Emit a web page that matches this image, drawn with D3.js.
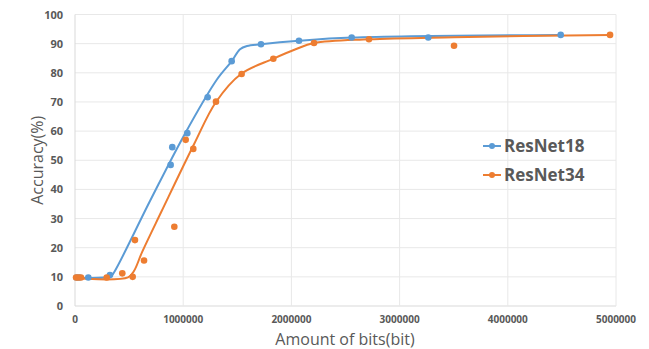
<!DOCTYPE html>
<html>
<head>
<meta charset="utf-8">
<script src="https://cdn.jsdelivr.net/npm/d3@7"></script>
<style>
  body { margin: 0; background: #fff; }
  text { font-family: "Open Sans", "DejaVu Sans", sans-serif; fill: #595959; }
</style>
</head>
<body>
<div id="viz"></div>
<script>
const width = 649;
const height = 349;
const margin = {top: 14.5, right: 33, bottom: 43, left: 75};

const colorBlue = '#5b9bd5';
const colorOrange = '#ed7d31';

// measured points
const res18Bits = [15000, 40000, 123000, 323000, 884000, 899000, 1038000, 1226000, 1448000, 1719000, 2070000, 2557000, 3265000, 4489000];
const res18Acc  = [9.8, 9.8, 9.8, 10.6, 48.4, 54.5, 59.3, 71.6, 84.0, 89.8, 91.0, 92.1, 92.1, 93.0];
const res34Bits = [10000, 30000, 55000, 293000, 437000, 533000, 554000, 638000, 918000, 1023000, 1093000, 1303000, 1540000, 1833000, 2209000, 2717000, 3503000, 4945000];
const res34Acc  = [9.8, 9.8, 9.8, 9.8, 11.2, 10.0, 22.6, 15.6, 27.2, 57.0, 53.9, 70.1, 79.6, 84.8, 90.2, 91.5, 89.3, 93.0];

// smoothed trend curves
const res18FitBits = [0, 330000, 360000, 693000, 1000000, 1310000, 1451000, 1525000, 1590000, 1719000, 2070000, 2560000, 4482000];
const res18FitAcc  = [9.7, 10.2, 11.5, 36.0, 58.0, 77.6, 84.1, 88.1, 89.2, 89.8, 91.0, 92.1, 93.0];
const res34FitBits = [0, 490000, 545000, 620000, 800000, 1100000, 1303000, 1534000, 1830000, 2033000, 2209000, 2717000, 3503000, 4945000];
const res34FitAcc  = [9.5, 9.8, 12.0, 18.5, 32.5, 55.5, 70.0, 79.6, 84.8, 88.0, 90.2, 91.5, 92.2, 93.0];

const xTicks = [0, 1000000, 2000000, 3000000, 4000000, 5000000];
const yTicks = [0, 10, 20, 30, 40, 50, 60, 70, 80, 90, 100];

const seriesNames = ['ResNet18', 'ResNet34'];

const svg = d3.select('#viz')
  .append('svg')
    .attr('width', width)
    .attr('height', height);

const xScale = d3.scaleLinear()
  .domain([0, 5000000])
  .range([margin.left, width - margin.right]);
const yScale = d3.scaleLinear()
  .domain([0, 100])
  .range([height - margin.bottom, margin.top]);

// gridlines
svg.append('g')
  .selectAll('line')
  .data(yTicks)
  .join('line')
    .attr('x1', margin.left)
    .attr('x2', width - margin.right)
    .attr('y1', d => yScale(d))
    .attr('y2', d => yScale(d))
    .attr('stroke', d => d === 0 ? '#d9d9d9' : '#e8e8e8')
    .attr('stroke-width', 1);
svg.append('g')
  .selectAll('line')
  .data(xTicks)
  .join('line')
    .attr('x1', d => xScale(d))
    .attr('x2', d => xScale(d))
    .attr('y1', margin.top)
    .attr('y2', height - margin.bottom)
    .attr('stroke', d => d === 0 ? '#d9d9d9' : '#e8e8e8')
    .attr('stroke-width', 1);

// tick labels
svg.append('g')
  .selectAll('text')
  .data(yTicks)
  .join('text')
    .attr('x', margin.left - 12)
    .attr('y', d => yScale(d) + 4)
    .attr('text-anchor', 'end')
    .style('font-size', '11px')
    .style('font-weight', 'bold')
    .text(d => d);
svg.append('g')
  .selectAll('text')
  .data(xTicks)
  .join('text')
    .attr('x', d => xScale(d))
    .attr('y', height - margin.bottom + 17)
    .attr('text-anchor', 'middle')
    .style('font-size', '10px')
    .style('font-weight', 'bold')
    .text(d => d);

// axis titles
svg.append('text')
  .attr('transform', `translate(43, ${yScale(50)}) rotate(-90)`)
  .attr('text-anchor', 'middle')
  .style('font-size', '16px')
  .text('Accuracy(%)');
svg.append('text')
  .attr('x', 345)
  .attr('y', height - 4)
  .attr('text-anchor', 'middle')
  .style('font-size', '16px')
  .text('Amount of bits(bit)');

// trend curves
const line = d3.line()
  .x(d => xScale(d[0]))
  .y(d => yScale(d[1]))
  .curve(d3.curveCatmullRom.alpha(0.5));

const fits = [
  {color: colorBlue, pts: d3.zip(res18FitBits, res18FitAcc)},
  {color: colorOrange, pts: d3.zip(res34FitBits, res34FitAcc)}
];
svg.append('g')
  .selectAll('path')
  .data(fits)
  .join('path')
    .attr('d', d => line(d.pts))
    .attr('fill', 'none')
    .attr('stroke', d => d.color)
    .attr('stroke-width', 2);

// points
const pointSets = [
  {color: colorBlue, pts: d3.zip(res18Bits, res18Acc)},
  {color: colorOrange, pts: d3.zip(res34Bits, res34Acc)}
];
pointSets.forEach(s => {
  svg.append('g')
    .selectAll('circle')
    .data(s.pts)
    .join('circle')
      .attr('cx', d => xScale(d[0]))
      .attr('cy', d => yScale(d[1]))
      .attr('r', 3.3)
      .attr('fill', s.color);
});

// legend
const legend = svg.append('g')
  .attr('transform', 'translate(483, 146)');
const legendColors = [colorBlue, colorOrange];
seriesNames.forEach((name, i) => {
  const g = legend.append('g').attr('transform', `translate(0, ${i * 29})`);
  g.append('line')
    .attr('x1', 0).attr('x2', 18)
    .attr('stroke', legendColors[i])
    .attr('stroke-width', 2);
  g.append('circle')
    .attr('cx', 9).attr('r', 3)
    .attr('fill', legendColors[i]);
  g.append('text')
    .attr('x', 21)
    .attr('y', 6)
    .style('font-size', '17px')
    .style('font-weight', 'bold')
    .text(name);
});
</script>
</body>
</html>
